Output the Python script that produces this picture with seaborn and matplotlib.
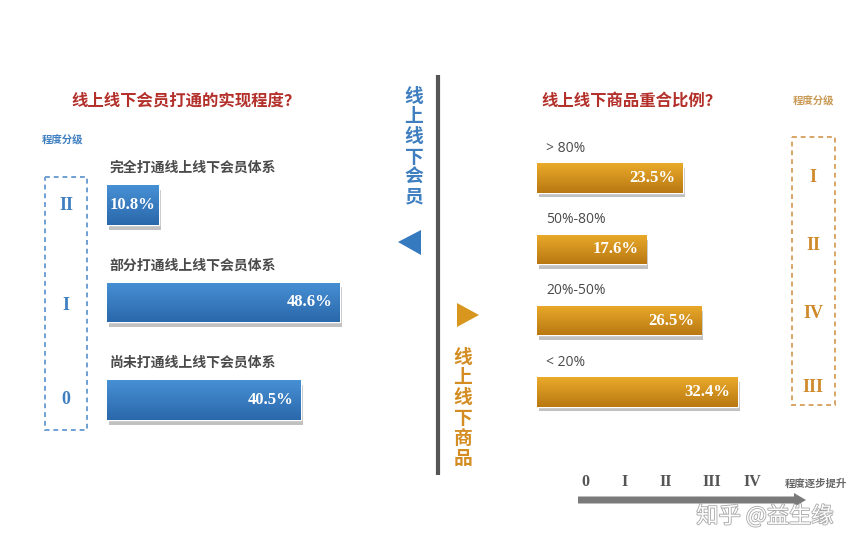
import numpy as np
import pandas as pd
import matplotlib
matplotlib.use("Agg")
import matplotlib.pyplot as plt
import matplotlib.patheffects as pe
from matplotlib.patches import Polygon, Rectangle, FancyArrow
import seaborn as sns

# ---------------- data ----------------
member_categories = ['完全打通线上线下会员体系', '部分打通线上线下会员体系', '尚未打通线上线下会员体系']
member_values = [10.8, 48.6, 40.5]
member_levels = ['II', 'I', '0']

goods_categories = ['> 80%', '50%-80%', '20%-50%', '< 20%']
goods_values = [23.5, 17.6, 26.5, 32.4]
goods_levels = ['I', 'II', 'IV', 'III']

scale_levels = ['0', 'I', 'II', 'III', 'IV']

member_title = '线上线下会员打通的实现程度？'
goods_title = '线上线下商品重合比例？'
grade_label = '程度分级'
scale_label = '程度逐步提升'
member_side = '线上线下会员'
goods_side = '线上线下商品'

# ---------------- style ----------------
sns.set_theme(style='white')
plt.rcParams['font.family'] = ['Noto Sans CJK SC', 'DejaVu Sans']

W, H = 868, 550
fig = plt.figure(figsize=(W / 100, H / 100), dpi=100)
fig.patch.set_facecolor('white')

BLUE = '#3579be'
BLUE_TXT = '#3f7fc0'
ORANGE = '#d8961e'
ORANGE_TXT = '#cf8a2a'
RED = '#b3302b'
GRAY_TXT = '#4a4a4a'


def px_axes(x0, x1, y0, y1):
    return fig.add_axes([x0 / W, 1 - y1 / H, (x1 - x0) / W, (y1 - y0) / H])


def gradient_bars(ax, c_top, c_bot):
    cmap = matplotlib.colors.LinearSegmentedColormap.from_list('g', [c_top, c_bot])
    grad = np.linspace(0, 1, 64).reshape(-1, 1)
    for p in list(ax.patches):
        x, y = p.get_x(), p.get_y()
        w, h = p.get_width(), p.get_height()
        p.set_path_effects([pe.SimplePatchShadow(offset=(1.5, -3.5), alpha=0.4,
                                                 shadow_rgbFace='#666666'),
                            pe.Normal()])
        im = ax.imshow(grad, extent=[x, x + w, y + h, y], cmap=cmap, aspect='auto',
                       zorder=p.get_zorder() + 0.1, interpolation='bilinear')
        im.set_clip_path(p)


# ---------------- left panel: members ----------------
axL = px_axes(107, 107 + 4.79 * 60, 205 - 0.6 * 97.5, 400 + 0.6 * 97.5)
dfL = pd.DataFrame({'cat': member_categories, 'val': member_values})
sns.barplot(data=dfL, x='val', y='cat', orient='h', ax=axL, color=BLUE,
            width=0.41, saturation=1)
axL.set_xlim(0, 60)
axL.set_ylim(2.6, -0.6)
gradient_bars(axL, '#4790d4', '#2a68aa')
axL.set_axis_off()
for i, (c, v) in enumerate(zip(member_categories, member_values)):
    axL.text(0.6, i - 0.38, c, ha='left', va='center', fontsize=10,
             fontweight='bold', color=GRAY_TXT)
    if v < 15:
        tx, ha = v / 2, 'center'
    else:
        tx, ha = v - 1.5, 'right'
    axL.text(tx, i, f'{v:.1f}%', ha=ha, va='center', fontsize=12,
             fontweight='bold', color='white', family='Liberation Serif', zorder=5)

# ---------------- right panel: goods ----------------
axR = px_axes(537, 537 + 6.2 * 40, 178 - 0.7 * 71.3, 392 + 0.7 * 71.3)
dfR = pd.DataFrame({'cat': goods_categories, 'val': goods_values})
sns.barplot(data=dfR, x='val', y='cat', orient='h', ax=axR, color=ORANGE,
            width=0.41, saturation=1)
axR.set_xlim(0, 40)
axR.set_ylim(3.7, -0.7)
gradient_bars(axR, '#eaaa2a', '#b97812')
axR.set_axis_off()
for i, (c, v) in enumerate(zip(goods_categories, goods_values)):
    axR.text(1.5, i - 0.42, c, ha='left', va='center', fontsize=10,
             color=GRAY_TXT, family=['Open Sans', 'DejaVu Sans'])
    axR.text(v - 1.2, i, f'{v:.1f}%', ha='right', va='center', fontsize=12,
             fontweight='bold', color='white', family='Liberation Serif', zorder=5)

# ---------------- overlay decorations (pixel coords) ----------------
ov = fig.add_axes([0, 0, 1, 1], zorder=-1)
ov.set_xlim(0, W)
ov.set_ylim(H, 0)
ov.set_axis_off()
ov.patch.set_alpha(0)

# titles
ov.text(186, 101, member_title, ha='center', va='center', fontsize=11.8,
        fontweight='bold', color=RED)
ov.text(631, 101, goods_title, ha='center', va='center', fontsize=11.8,
        fontweight='bold', color=RED)

# grade labels
ov.text(63, 140, grade_label, ha='center', va='center', fontsize=7.5,
        fontweight='bold', color=BLUE_TXT)
ov.text(814, 101, grade_label, ha='center', va='center', fontsize=7.5,
        fontweight='bold', color='#c99a55')

# dashed boxes
ov.add_patch(Rectangle((45, 177), 42, 253, fill=False, edgecolor='#6f9fd2',
                       linestyle=(0, (2.5, 2)), linewidth=1.4))
ov.add_patch(Rectangle((792, 137), 43, 268, fill=False, edgecolor='#d9a566',
                       linestyle=(0, (2.5, 2)), linewidth=1.4))

# level numerals inside boxes
for lvl, y in zip(member_levels, [205, 305, 400]):
    ov.text(66, y, lvl, ha='center', va='center', fontsize=13, fontweight='bold',
            color=BLUE_TXT, family='Liberation Serif')
for lvl, y in zip(goods_levels, [178, 246, 314, 388]):
    ov.text(813, y, lvl, ha='center', va='center', fontsize=13, fontweight='bold',
            color=ORANGE_TXT, family='Liberation Serif')

# center divider
ov.plot([438, 438], [75, 475], color='#555555', linewidth=3, solid_capstyle='butt')

# vertical side labels
ov.text(414, 147, '\n'.join(member_side), ha='center', va='center', fontsize=13.5,
        fontweight='bold', color=BLUE_TXT, linespacing=1.07)
ov.text(463, 408, '\n'.join(goods_side), ha='center', va='center', fontsize=13.5,
        fontweight='bold', color='#d38d22', linespacing=1.07)

# triangles
ov.add_patch(Polygon([[398, 242], [421, 230], [421, 255]], closed=True,
                     facecolor=BLUE, edgecolor='none'))
ov.add_patch(Polygon([[479, 315], [457, 303], [457, 327]], closed=True,
                     facecolor='#d8961e', edgecolor='none'))

# bottom scale
for lvl, x in zip(scale_levels, [585, 625, 666, 712, 752]):
    ov.text(x, 482, lvl, ha='center', va='center', fontsize=11.5, fontweight='bold',
            color='#555555', family='Liberation Serif')
ov.text(816, 484, scale_label, ha='center', va='center', fontsize=7.5,
        fontweight='bold', color='#666666')
ov.add_patch(FancyArrow(578, 500, 228, 0, width=7, head_width=14, head_length=12,
                        length_includes_head=True, facecolor='#7a7a7a',
                        edgecolor='none'))

# watermark
ov.text(765, 516, '知乎 @益生缘', ha='center', va='center', fontsize=16,
        color='white', zorder=10,
        path_effects=[pe.withStroke(linewidth=1.2, foreground='#a8a8a8')])

fig.savefig('out.png', dpi=100, facecolor='white')
